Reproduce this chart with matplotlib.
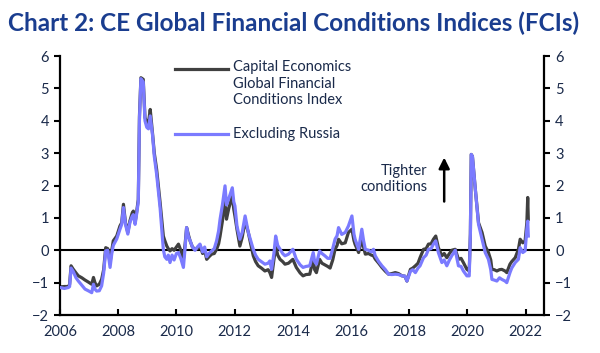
import matplotlib
matplotlib.use('Agg')
import matplotlib.pyplot as plt

# decimal year, CE FCI, FCI excluding Russia
years = [
    2006.00, 2006.15, 2006.29, 2006.33, 2006.38, 2006.45, 2006.55, 2006.63, 2006.75, 2006.86,
    2006.97, 2007.09, 2007.15, 2007.20, 2007.26, 2007.35, 2007.43, 2007.50, 2007.57, 2007.64,
    2007.72, 2007.78, 2007.83, 2007.95, 2008.06, 2008.12, 2008.18, 2008.25, 2008.33, 2008.40,
    2008.48, 2008.52, 2008.58, 2008.63, 2008.69, 2008.73, 2008.78, 2008.86, 2008.92, 2008.98,
    2009.04, 2009.10, 2009.18, 2009.24, 2009.32, 2009.44, 2009.50, 2009.55, 2009.60, 2009.67,
    2009.72, 2009.78, 2009.85, 2009.92, 2010.00, 2010.07, 2010.15, 2010.24, 2010.30, 2010.35,
    2010.42, 2010.47, 2010.55, 2010.64, 2010.72, 2010.81, 2010.90, 2010.97, 2011.04, 2011.12,
    2011.21, 2011.30, 2011.38, 2011.45, 2011.50, 2011.58, 2011.67, 2011.72, 2011.80, 2011.92,
    2011.97, 2012.01, 2012.08, 2012.18, 2012.26, 2012.36, 2012.47, 2012.55, 2012.64, 2012.72,
    2012.81, 2012.92, 2013.04, 2013.15, 2013.21, 2013.27, 2013.35, 2013.41, 2013.48, 2013.56,
    2013.65, 2013.73, 2013.85, 2014.00, 2014.12, 2014.25, 2014.35, 2014.45, 2014.58, 2014.70,
    2014.75, 2014.81, 2014.92, 2015.00, 2015.10, 2015.20, 2015.28, 2015.37, 2015.45, 2015.52,
    2015.57, 2015.68, 2015.80, 2015.91, 2016.03, 2016.10, 2016.14, 2016.26, 2016.37, 2016.43,
    2016.49, 2016.60, 2016.70, 2016.77, 2016.83, 2016.95, 2017.06, 2017.18, 2017.29, 2017.40,
    2017.52, 2017.63, 2017.75, 2017.85, 2017.92, 2018.04, 2018.12, 2018.21, 2018.30, 2018.37,
    2018.49, 2018.58, 2018.66, 2018.75, 2018.83, 2018.91, 2019.00, 2019.12, 2019.20, 2019.29,
    2019.38, 2019.46, 2019.58, 2019.69, 2019.78, 2019.86, 2019.98, 2020.06, 2020.10, 2020.13,
    2020.17, 2020.27, 2020.38, 2020.50, 2020.61, 2020.72, 2020.80, 2020.84, 2020.92, 2021.01,
    2021.10, 2021.18, 2021.29, 2021.35, 2021.46, 2021.52, 2021.64, 2021.75, 2021.81, 2021.90,
    2021.98, 2022.04, 2022.07, 2022.09,
]
fci = [
    -1.13, -1.12, -1.12, -1.05, -0.48, -0.58, -0.70, -0.79, -0.85, -0.92,
    -0.98, -1.05, -0.84, -1.00, -1.10, -1.05, -0.90, -0.60, 0.08, 0.05,
    -0.38, 0.00, 0.29, 0.44, 0.75, 0.85, 1.42, 0.85, 0.55, 0.90,
    1.15, 1.21, 0.85, 1.16, 1.57, 4.15, 5.33, 5.28, 4.10, 3.94,
    3.94, 4.35, 3.60, 3.00, 2.50, 1.47, 0.90, 0.44, 0.30, 0.13,
    0.05, -0.02, 0.05, 0.00, 0.10, 0.19, 0.00, -0.28, 0.20, 0.70,
    0.45, 0.29, 0.10, 0.03, 0.05, 0.15, -0.10, 0.00, -0.28, -0.20,
    -0.12, -0.10, 0.03, 0.20, 0.44, 0.90, 1.57, 0.96, 1.30, 1.68,
    1.27, 1.06, 0.65, 0.13, 0.40, 0.90, 0.55, 0.20, -0.17, -0.35,
    -0.48, -0.55, -0.64, -0.60, -0.69, -0.84, -0.30, 0.13, -0.15, -0.28,
    -0.35, -0.43, -0.40, -0.28, -0.53, -0.70, -0.79, -0.75, -0.74, -0.28,
    -0.60, -0.69, -0.28, -0.40, -0.45, -0.50, -0.55, -0.30, 0.03, 0.15,
    0.34, 0.20, 0.23, 0.55, 0.65, 0.30, 0.18, -0.07, 0.35, 0.10,
    -0.12, -0.10, -0.15, -0.17, -0.27, -0.40, -0.53, -0.65, -0.74, -0.72,
    -0.69, -0.72, -0.79, -0.80, -0.95, -0.59, -0.55, -0.48, -0.40, -0.23,
    0.03, 0.05, 0.19, 0.20, 0.34, 0.44, 0.08, -0.17, -0.10, -0.23,
    -0.10, 0.00, 0.03, -0.28, -0.25, -0.38, -0.59, -0.64, 0.50, 2.96,
    2.90, 1.88, 0.85, 0.55, 0.13, -0.07, -0.30, -0.59, -0.60, -0.64,
    -0.60, -0.59, -0.64, -0.69, -0.43, -0.35, -0.23, 0.03, 0.34, 0.23,
    0.29, 0.85, 1.63, 0.96,
]
fci_ex_russia = [
    -1.15, -1.18, -1.15, -1.12, -0.55, -0.65, -0.85, -0.95, -1.08, -1.20,
    -1.25, -1.31, -1.05, -1.20, -1.26, -1.25, -1.10, -0.70, -0.02, 0.00,
    -0.53, -0.10, 0.15, 0.35, 0.65, 0.80, 1.32, 0.80, 0.50, 0.85,
    1.05, 1.10, 0.80, 1.10, 1.50, 4.05, 5.30, 5.20, 4.00, 3.80,
    3.75, 4.15, 3.55, 2.90, 2.35, 1.30, 0.60, 0.03, -0.20, -0.28,
    -0.15, -0.38, -0.15, -0.30, -0.10, -0.07, -0.25, -0.53, 0.10, 0.70,
    0.40, 0.30, 0.10, 0.00, 0.10, 0.19, -0.05, 0.10, -0.20, -0.10,
    -0.02, 0.05, 0.29, 0.60, 0.96, 1.40, 1.99, 1.40, 1.60, 1.93,
    1.50, 1.37, 0.75, 0.34, 0.55, 1.06, 0.55, 0.30, 0.03, -0.15,
    -0.28, -0.35, -0.43, -0.40, -0.33, -0.59, -0.10, 0.44, 0.15, 0.03,
    -0.10, -0.17, -0.12, 0.03, -0.28, -0.45, -0.53, -0.50, -0.48, -0.07,
    -0.35, -0.43, -0.02, -0.10, -0.17, -0.25, -0.25, 0.05, 0.34, 0.45,
    0.70, 0.49, 0.55, 0.75, 1.06, 0.50, 0.34, 0.03, 0.65, 0.30,
    0.03, 0.00, -0.05, 0.03, -0.17, -0.35, -0.48, -0.60, -0.74, -0.75,
    -0.74, -0.75, -0.79, -0.80, -0.95, -0.65, -0.60, -0.69, -0.55, -0.48,
    -0.23, -0.15, 0.03, 0.05, 0.19, 0.29, -0.07, -0.38, -0.30, -0.48,
    -0.30, -0.17, 0.00, -0.48, -0.50, -0.64, -0.79, -0.79, 0.50, 2.96,
    2.90, 1.88, 0.80, 0.34, -0.07, -0.28, -0.60, -0.90, -0.92, -0.95,
    -0.85, -0.90, -0.95, -1.00, -0.69, -0.55, -0.38, -0.28, 0.08, -0.07,
    -0.02, 0.65, 0.90, 0.44,
]

x_ticks = list(range(2006, 2023, 2))
y_ticks = list(range(-2, 7))

navy = '#1a2a4a'
plt.rcParams['font.family'] = ['Lato', 'DejaVu Sans']

fig = plt.figure(figsize=(6, 3.53), dpi=100)
ax = fig.add_axes([0.1, 0.1076, 0.8067, 0.7337])

ax.axhline(0, color='black', lw=1.5, zorder=1)
ax.plot(years, fci, color='#404040', lw=2.3, zorder=2)
ax.plot(years, fci_ex_russia, color='#7b7bff', lw=2.3, zorder=3)

ax.set_xlim(2006, 2022.63)
ax.set_ylim(-2, 6)
ax.set_xticks(x_ticks)
ax.set_yticks(y_ticks)
ax.spines['top'].set_visible(False)
for s in ['left', 'right', 'bottom']:
    ax.spines[s].set_linewidth(1.6)
ax.tick_params(axis='y', direction='out', length=4, width=1.5, labelsize=10.5,
               labelcolor=navy, right=True, labelright=True, pad=4)
ax.tick_params(axis='x', direction='in', length=4, width=1.5, labelsize=10.5,
               labelcolor=navy, pad=7)

# legend drawn by hand
ax.plot([0.2376, 0.3471], [0.950, 0.950], transform=ax.transAxes, color='#404040', lw=2.3)
ax.text(0.357, 0.985, 'Capital Economics\nGlobal Financial\nConditions Index',
        transform=ax.transAxes, ha='left', va='top', fontsize=10.5, color=navy, linespacing=1.25)
ax.plot([0.2376, 0.3471], [0.699, 0.699], transform=ax.transAxes, color='#7b7bff', lw=2.3)
ax.text(0.357, 0.699, 'Excluding Russia', transform=ax.transAxes, ha='left', va='center',
        fontsize=10.5, color=navy)

# annotation
ax.text(2018.61, 2.2, 'Tighter\nconditions', ha='right', va='center', fontsize=10.5,
        color=navy, linespacing=1.2, multialignment='right')
ax.annotate('', xy=(2019.2, 2.95), xytext=(2019.2, 1.42),
            arrowprops=dict(arrowstyle='-|>', color='black', lw=1.8, mutation_scale=16))

fig.text(0.013, 0.935, 'Chart 2: CE Global Financial Conditions Indices (FCIs)',
         ha='left', va='center', fontsize=17.5, fontweight='bold', color='#1a3d8f')

fig.savefig('out.png', dpi=100)
